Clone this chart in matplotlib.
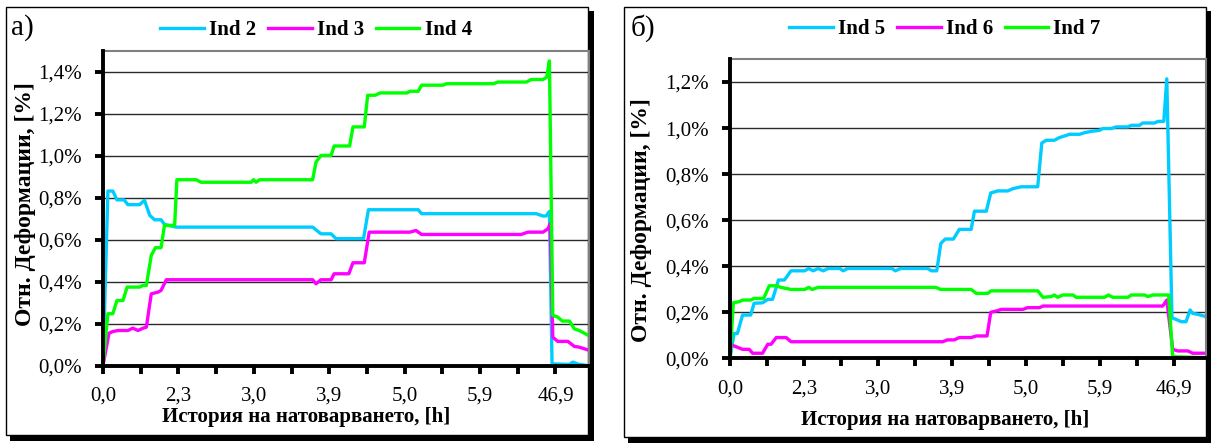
import matplotlib
matplotlib.use("Agg")
import matplotlib.pyplot as plt
from matplotlib.patches import Rectangle
from matplotlib.ticker import FixedLocator, FuncFormatter

plt.rcParams['font.family'] = ['Liberation Serif', 'DejaVu Serif']

# ---- data: x is the load-history step index, y is strain in %
hist_labels = ["0,0", "2,3", "3,0", "3,9", "5,0", "5,9", "46,9"]

ind2_x = [0, 0.13, 0.26, 0.37, 0.56, 0.66, 0.97, 1.10, 1.24, 1.37, 1.54, 1.63, 1.94, 5.56, 5.78,
          6.05, 6.18, 6.91, 7.04, 8.36, 8.45, 11.49, 11.67, 11.75, 11.84, 11.91, 12.37, 12.46, 12.63, 12.85]
ind2_y = [0, .832, .832, .79, .79, .767, .767, .788, .716, .695, .695, .673, .66, .66, .628,
          .628, .605, .605, .743, .743, .724, .724, .713, .713, .735, .008, .005, .016, .005, 0.0]

ind3_x = [0, 0.16, 0.26, 0.40, 0.66, 0.79, 0.93, 1.06, 1.15, 1.28, 1.46, 1.54, 1.68, 5.56, 5.65, 5.78,
          6.05, 6.13, 6.52, 6.63, 6.93, 7.06, 8.14, 8.30, 8.45, 11.09, 11.27, 11.67, 11.80, 11.86,
          11.93, 12.06, 12.33, 12.50, 12.63, 12.85]
ind3_y = [0, .154, .162, .167, .167, .178, .167, .178, .183, .342, .35, .358, .409, .409, .39, .409,
          .409, .4375, .4375, .49, .49, .636, .636, .644, .625, .625, .636, .636, .652, .676,
          .135, .115, .115, .091, .0875, .075]

ind4_x = [0, 0.13, 0.26, 0.37, 0.53, 0.64, 0.97, 1.06, 1.15, 1.28, 1.39, 1.54, 1.63, 1.90, 1.96,
          2.47, 2.60, 3.93, 3.99, 4.06, 4.15, 5.56, 5.65, 5.78, 6.05, 6.13, 6.54, 6.63, 6.93, 7.02,
          7.22, 7.35, 8.06, 8.14, 8.36, 8.45, 9.02, 9.11, 10.35, 10.48, 11.23, 11.36, 11.67, 11.77,
          11.84, 11.93, 12.06, 12.18, 12.37, 12.50, 12.63, 12.85]
ind4_y = [0, .247, .247, .31, .31, .374, .374, .382, .382, .525, .562, .562, .668, .668, .886,
          .886, .874, .874, .886, .874, .886, .886, .97, 1.002, 1.002, 1.047, 1.047, 1.138, 1.138, 1.289,
          1.289, 1.30, 1.30, 1.308, 1.308, 1.337, 1.337, 1.344, 1.344, 1.352, 1.352, 1.364, 1.364, 1.376,
          1.453, .239, .231, .212, .212, .175, .167, .146]

ind5_x = [0, 0.11, 0.2, 0.34, 0.56, 0.65, 0.88, 1.02, 1.15, 1.31, 1.47, 1.65, 2.02, 2.13, 2.25,
          2.38, 2.52, 2.65, 2.97, 3.06, 3.18, 4.38, 4.47, 4.61, 5.34, 5.45, 5.59, 5.70, 5.82, 6.04,
          6.2, 6.52, 6.61, 6.93, 7.05, 7.24, 7.51, 7.65, 7.87, 8.32, 8.43, 8.55, 8.77, 8.91, 9.05,
          9.18, 9.45, 9.59, 9.77, 9.99, 10.08, 10.31, 10.44, 10.76, 10.85, 11.07, 11.16, 11.48, 11.57,
          11.73, 11.81, 11.95, 12.06, 12.20, 12.33, 12.44, 12.51, 12.65, 12.87]
ind5_y = [0, .108, .108, .188, .188, .239, .241, .256, .256, .34, .34, .38, .38, .39, .38,
          .39, .38, .39, .39, .38, .39, .39, .38, .39, .39, .38, .38, .499, .518, .518,
          .56, .56, .639, .639, .718, .727, .727, .737, .745, .745, .935, .947, .947, .959, .966,
          .973, .973, .98, .986, .99, .998, .998, 1.005, 1.005, 1.012, 1.012, 1.022, 1.022, 1.029,
          1.029, 1.214, .176, .169, .159, .159, .21, .195, .191, .181]

ind6_x = [0.04, 0.2, 0.34, 0.52, 0.61, 0.88, 1.02, 1.11, 1.25, 1.52, 1.65, 5.75, 5.88, 6.06, 6.2,
          6.52, 6.66, 6.95, 7.05, 7.24, 7.33, 7.92, 8.05, 8.37, 8.46, 11.70, 11.81, 11.97, 12.11,
          12.38, 12.51, 12.87]
ind6_y = [.058, .048, .039, .039, .022, .022, .061, .061, .09, .09, .072, .072, .08, .08, .09,
          .09, .097, .097, .2, .207, .2125, .2125, .22, .22, .227, .227, .253, .039, .032,
          .032, .022, .022]

ind7_x = [0, 0.09, 0.25, 0.34, 0.56, 0.65, 0.91, 1.06, 1.25, 1.38, 1.65, 2.02, 2.13, 2.22, 2.38,
          5.56, 5.70, 6.52, 6.66, 6.97, 7.06, 8.32, 8.46, 8.68, 8.77, 8.86, 9.0, 9.27, 9.36, 10.13,
          10.23, 10.35, 10.76, 10.85, 11.21, 11.30, 11.43, 11.86, 11.97, 12.87]
ind7_y = [0, .241, .246, .253, .253, .26, .26, .315, .315, .308, .299, .299, .308, .299, .308,
          .308, .299, .299, .282, .282, .293, .293, .265, .268, .275, .265, .275, .275, .265, .265,
          .275, .265, .265, .275, .275, .268, .275, .275, .007, .003]

CYAN, MAGENTA, GREEN = "#00CCFF", "#FF00FF", "#00FF00"

W, H = 1211, 443
fig = plt.figure(figsize=(W / 100, H / 100), dpi=100)


def box(x0, y0, x1, y1, **kw):
    fig.add_artist(Rectangle((x0 / W, 1 - y1 / H), (x1 - x0) / W, (y1 - y0) / H,
                             transform=fig.transFigure, **kw))


# framed panels with a drop shadow
box(10, 11, 594, 441, facecolor="black", edgecolor="none", zorder=0)
box(6, 7, 588, 435, facecolor="white", edgecolor="black", lw=1.0, zorder=0.5)
box(628, 11, 1211, 443, facecolor="black", edgecolor="none", zorder=0)
box(624, 7, 1206, 437, facecolor="white", edgecolor="black", lw=1.0, zorder=0.5)


def pct(v, _):
    return f"{v:.1f}%".replace(".", ",")


def hist_fmt(v, _):
    i = int(round(v))
    return hist_labels[i // 2] if i % 2 == 0 and i // 2 < len(hist_labels) else ""


def make_axes(rect_px, ymax, xmax):
    x0, y0, x1, y1 = rect_px
    ax = fig.add_axes([x0 / W, 1 - y1 / H, (x1 - x0) / W, (y1 - y0) / H])
    ax.set_zorder(2)
    ax.patch.set_alpha(0)
    ax.set_xlim(0, xmax)
    ax.set_ylim(0, ymax)
    ax.xaxis.set_major_locator(FixedLocator(range(13)))
    ax.xaxis.set_major_formatter(FuncFormatter(hist_fmt))
    ax.yaxis.set_major_locator(FixedLocator([i * 0.2 for i in range(int(ymax / 0.2 + 1e-6) + 1)]))
    ax.yaxis.set_major_formatter(FuncFormatter(pct))
    ax.grid(axis="y", color="#2a2a2a", lw=1.0)
    ax.set_axisbelow(True)
    for s in ("left", "bottom"):
        ax.spines[s].set_linewidth(2.8)
        ax.spines[s].set_color("black")
        ax.spines[s].set_zorder(5)
    for s in ("top", "right"):
        ax.spines[s].set_linewidth(1.5)
        ax.spines[s].set_color("#808080")
    ax.tick_params(axis="x", direction="out", length=6, width=2.8, pad=9, labelsize=15)
    ax.tick_params(axis="y", direction="out", length=6, width=2.8, pad=9, labelsize=15)
    return ax


lw = 2.4
axA = make_axes((103, 51, 589, 365.5), 1.5, 12.89)
axA.plot(ind2_x, ind2_y, color=CYAN, lw=lw, label="Ind 2", solid_joinstyle="round")
axA.plot(ind3_x, ind3_y, color=MAGENTA, lw=lw, label="Ind 3", solid_joinstyle="round")
axA.plot(ind4_x, ind4_y, color=GREEN, lw=lw, label="Ind 4", solid_joinstyle="round")

axB = make_axes((730, 59, 1206, 358.3), 1.3, 12.87)
axB.plot(ind5_x, ind5_y, color=CYAN, lw=lw, label="Ind 5", solid_joinstyle="round")
axB.plot(ind6_x, ind6_y, color=MAGENTA, lw=lw, label="Ind 6", solid_joinstyle="round")
axB.plot(ind7_x, ind7_y, color=GREEN, lw=lw, label="Ind 7", solid_joinstyle="round")

leg_font = {"weight": "bold", "size": 15}
for ax, cx, cy in ((axA, 316, 30), (axB, 945, 29)):
    ax.legend(loc="center", bbox_to_anchor=(cx / W, 1 - cy / H), bbox_transform=fig.transFigure,
              ncol=3, frameon=False, prop=leg_font, handlelength=2.1, handletextpad=0.25,
              columnspacing=0.55, borderpad=0)

xlabel = "История на натоварването, [h]"
ylabel = "Отн. Деформации, [%]"
fig.text(306 / W, 1 - 417 / H, xlabel, ha="center", va="center", fontsize=15, fontweight="bold")
fig.text(945 / W, 1 - 420 / H, xlabel, ha="center", va="center", fontsize=15, fontweight="bold")
fig.text(26 / W, 1 - 204 / H, ylabel, ha="center", va="center", rotation=90, fontsize=17,
         fontweight="bold")
fig.text(641 / W, 1 - 220 / H, ylabel, ha="center", va="center", rotation=90, fontsize=17,
         fontweight="bold")

fig.text(11 / W, 1 - 28 / H, "а)", ha="left", va="center", fontsize=21)
fig.text(631 / W, 1 - 28 / H, "б)", ha="left", va="center", fontsize=21)

fig.savefig("out.png", dpi=100)
